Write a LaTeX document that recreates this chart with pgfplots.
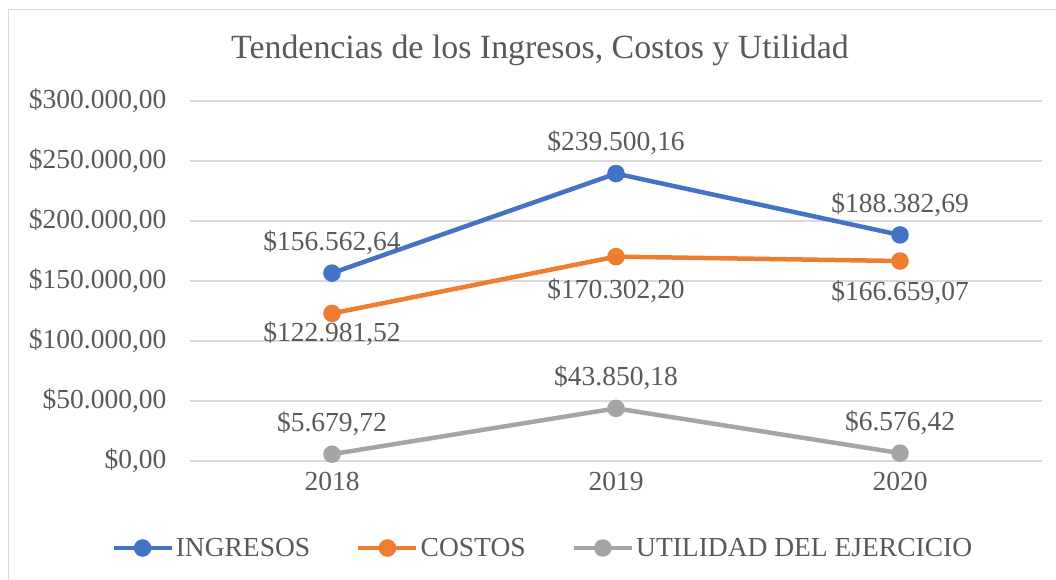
\documentclass[border=0pt]{standalone}
\usepackage{fontspec}
\setmainfont{Liberation Serif}
\usepackage{pgfplots}
\pgfplotsset{compat=1.18}
\definecolor{azul}{HTML}{4472C4}
\definecolor{naranja}{HTML}{ED7D31}
\definecolor{gris}{HTML}{A5A5A5}
\definecolor{texto}{HTML}{595959}
\definecolor{rejilla}{HTML}{D9D9D9}

\begin{document}
\begin{tikzpicture}
  \useasboundingbox (0bp,0bp) rectangle (1056bp,580bp);
  \draw[rejilla, line width=1.5bp] (8.5bp,0bp) -- (8.5bp,570.5bp) -- (1056bp,570.5bp);
  \node[texto, font=\fontsize{34}{40}\selectfont] at (540bp,530bp) {Tendencias de los Ingresos, Costos y Utilidad};
  \begin{axis}[
      at={(190bp,119bp)}, anchor=south west,
      width=852bp, height=360bp, scale only axis,
      xmin=-0.5, xmax=2.5, ymin=0, ymax=300000,
      xtick={0,1,2}, xticklabels={2018,2019,2020},
      ytick={0,50000,...,300000},
      scaled y ticks=false,
      axis line style={draw=none},
      axis x line*=bottom,
      x axis line style={draw=rejilla, line width=1.2bp},
      major tick length=0pt,
      ymajorgrids, grid style={rejilla, line width=1.2bp},
      /pgf/number format/assume math mode=true,
      ticklabel style={texto, font=\fontsize{27.6}{32}\selectfont},
      yticklabel={\$\pgfmathprintnumber[fixed, fixed zerofill, precision=2, use comma, 1000 sep={.}]{\tick}},
      yticklabel style={xshift=-20bp},
      xticklabel style={yshift=-8bp},
      every axis plot/.append style={line width=4.5bp, mark=*, mark size=6.5bp},
      nodes near coords={\$\pgfmathprintnumber[fixed, fixed zerofill, precision=2, use comma, 1000 sep={.}]{\pgfplotspointmeta}},
      every node near coord/.append style={texto, font=\fontsize{27.6}{32}\selectfont},
      legend columns=3,
      legend style={at={(0.414,-0.2417)}, anchor=center, draw=none, fill=none,
        font=\fontsize{27.6}{32}\selectfont, text=texto,
        /tikz/every even column/.append style={column sep=44bp}},
      legend image code/.code={
        \draw[#1, mark=none] (0bp,0bp) -- (58bp,0bp);
        \fill[#1] (29bp,0bp) circle (6.5bp);
      },
    ]
    \addplot[azul, every node near coord/.append style={anchor=south, yshift=13bp}]
      coordinates {(0,156562.64) (1,239500.16) (2,188382.69)};
    \addplot[naranja, visualization depends on={\thisrow{sh}\as\sh},
      every node near coord/.append style={anchor=north, yshift=\sh bp}]
      table[x=x, y=y] {
        x y sh
        0 122981.52 -3
        1 170302.20 -16
        2 166659.07 -14
      };
    \addplot[gris, every node near coord/.append style={anchor=south, yshift=13bp}]
      coordinates {(0,5679.72) (1,43850.18) (2,6576.42)};
    \legend{INGRESOS, COSTOS, UTILIDAD DEL EJERCICIO}
  \end{axis}
\end{tikzpicture}
\end{document}
